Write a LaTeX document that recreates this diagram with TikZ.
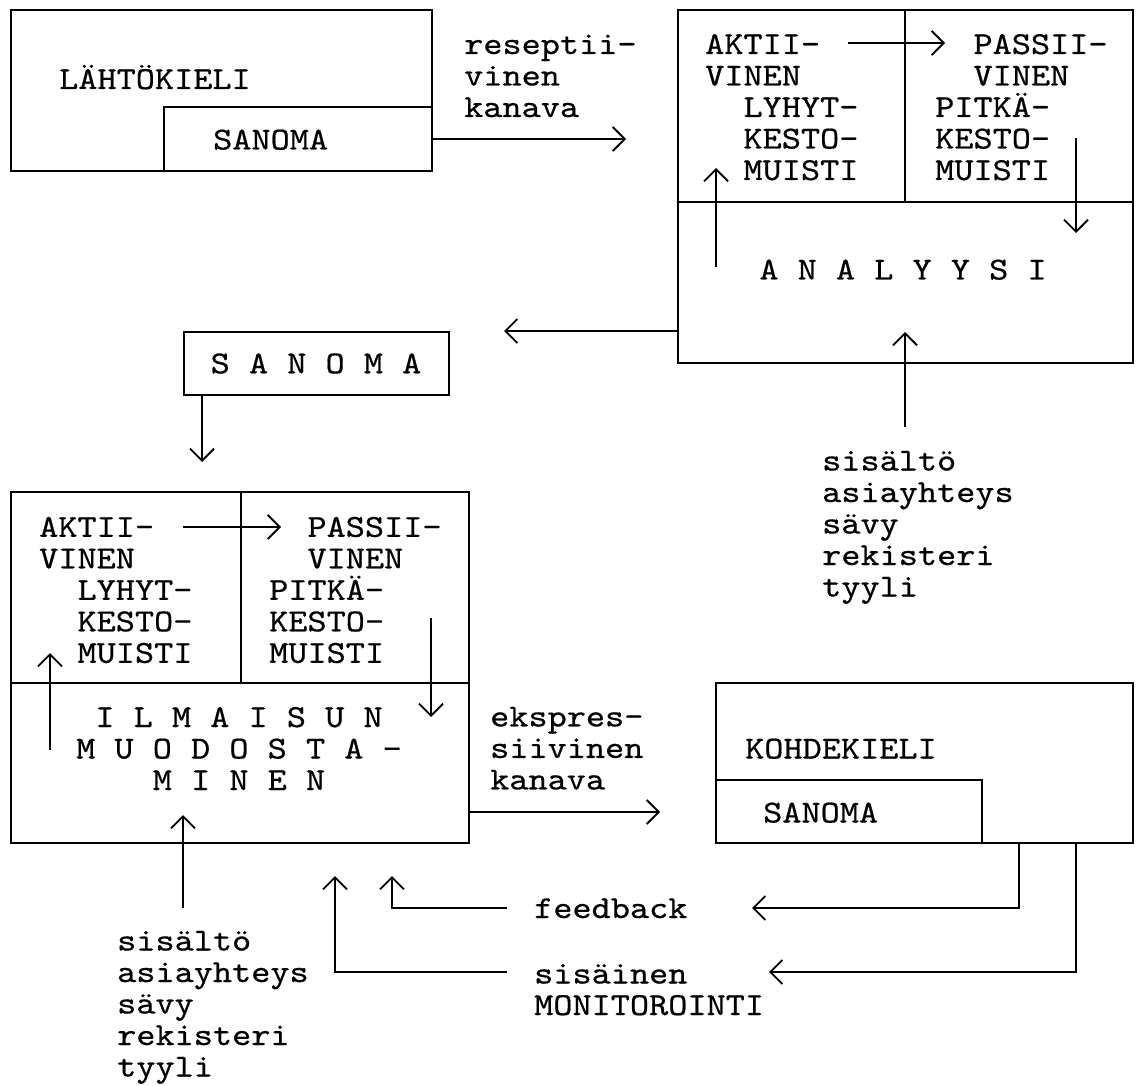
\documentclass[tikz,border=0pt]{standalone}
\usepackage{fontspec}
\newfontfamily\tw[FakeStretch=1.14,FakeBold=0.6]{lmmono10-regular.otf}
\newcommand\twfont{\tw\fontsize{32}{31.5}\selectfont\lineskiplimit=-100pt\relax}
\usetikzlibrary{arrows.meta}
\begin{document}
\begin{tikzpicture}[x=1pt,y=-1pt,
  box/.style={draw, line width=2pt, inner sep=0pt, outer sep=0pt, anchor=north west},
  txt/.style={inner sep=0pt, anchor=base west, align=left, font=\twfont},
  ctxt/.style={txt, anchor=base, align=center},
  ln/.style={line width=2pt},
  arr/.style={line width=1.8pt, -{Straight Barb[length=12pt,width=24pt,line width=1.8pt]}}]
\useasboundingbox (0,0) rectangle (1136,1086);

% ---------- boxes ----------
\node[box, minimum width=421pt, minimum height=161pt] (src) at (11,10) {};
\node[box, minimum width=268pt, minimum height=64pt] (srcmsg) at (164,107) {};
\node[box, minimum width=455pt, minimum height=353pt] (anl) at (678,10) {};
\node[box, anchor=center, minimum width=265pt, minimum height=63pt, font=\twfont] (msg) at (316,363.5) {S A N O M A};
\node[box, minimum width=458pt, minimum height=351pt] (gen) at (11,492) {};
\node[box, minimum width=417pt, minimum height=160pt] (tgt) at (716,683) {};
\node[box, minimum width=266pt, minimum height=63pt] (tgtmsg) at (716,780) {};

% dividers
\draw[ln] (905,10) -- (905,202);
\draw[ln] (678,202) -- (1133,202);
\draw[ln] (241,492) -- (241,683);
\draw[ln] (11,683) -- (469,683);

% ---------- texts (base anchor = baseline of the last line) ----------
\node[txt] (tsrc) at (59,89) {LÄHTÖKIELI};
\node[txt] (tsrcmsg) at (213,149.5) {SANOMA};
\node[txt] (trec) at (464,117) {reseptii-\\vinen\\kanava};

\node[txt] (aleft) at (705,180) {AKTII-\\VINEN\\\hphantom{XX}LYHYT-\\\hphantom{XX}KESTO-\\\hphantom{XX}MUISTI};
\node[txt] (aright) at (935,180) {\hphantom{XX}PASSII-\\\hphantom{XX}VINEN\\PITKÄ-\\KESTO-\\MUISTI};
\node[ctxt] (tanl) at (903,279.5) {A N A L Y Y S I};
\node[txt] (ctx1) at (822,596.5) {sisältö\\asiayhteys\\sävy\\rekisteri\\tyyli};

\node[txt] (gleft) at (39,662.8) {AKTII-\\VINEN\\\hphantom{XX}LYHYT-\\\hphantom{XX}KESTO-\\\hphantom{XX}MUISTI};
\node[txt] (gright) at (269,662.8) {\hphantom{XX}PASSII-\\\hphantom{XX}VINEN\\PITKÄ-\\KESTO-\\MUISTI};
\node[ctxt] (tgen) at (239,790) {I L M A I S U N\\M U O D O S T A -\\M I N E N};
\node[txt] (texp) at (490,789.4) {ekspres-\\siivinen\\kanava};

\node[txt] (ttgt) at (745,758.5) {KOHDEKIELI};
\node[txt] (ttgtmsg) at (763,822.5) {SANOMA};

\node[txt] (fb) at (534,918) {feedback};
\node[txt] (mon) at (534,1015) {sisäinen\\MONITOROINTI};
\node[txt] (ctx2) at (117,1076.5) {sisältö\\asiayhteys\\sävy\\rekisteri\\tyyli};

% ---------- connector end points ----------
\coordinate (recTip) at (626,139);
\coordinate (aA) at (848,43);   \coordinate (aB) at (945,43);
\coordinate (aU1) at (716,267); \coordinate (aU2) at (716,168);
\coordinate (aD1) at (1076,138);\coordinate (aD2) at (1076,233);
\coordinate (anlOut) at (678,331); \coordinate (anlTip) at (504,331);
\coordinate (c1Start) at (905,427); \coordinate (c1Tip) at (905,332);
\coordinate (msgOut) at (202,395); \coordinate (msgTip) at (202,462);
\coordinate (gA) at (183,527);  \coordinate (gB) at (281,527);
\coordinate (gU1) at (50,750);  \coordinate (gU2) at (50,653);
\coordinate (gD1) at (431,618); \coordinate (gD2) at (431,717);
\coordinate (c2Start) at (183,908); \coordinate (c2Tip) at (183,815);
\coordinate (genOut) at (469,812); \coordinate (expTip) at (660,812);
\coordinate (fbOut) at (1019,843); \coordinate (fbCorner) at (1019,908); \coordinate (fbTip) at (752,908);
\coordinate (monOut) at (1076,843); \coordinate (monCorner) at (1076,972); \coordinate (monTip) at (769,972);
\coordinate (fbIn) at (507,908); \coordinate (fbC2) at (392,908); \coordinate (fbUp) at (392,876);
\coordinate (monIn) at (507,972); \coordinate (monC2) at (335,972); \coordinate (monUp) at (335,876);

% ---------- connectors ----------
\draw[arr] (srcmsg.east) -- (recTip);
\draw[arr] (aA) -- (aB);
\draw[arr] (aU1) -- (aU2);
\draw[arr] (aD1) -- (aD2);
\draw[arr] (anlOut) -- (anlTip);
\draw[arr] (c1Start) -- (c1Tip);
\draw[arr] (msgOut) -- (msgTip);
\draw[arr] (gA) -- (gB);
\draw[arr] (gU1) -- (gU2);
\draw[arr] (gD1) -- (gD2);
\draw[arr] (c2Start) -- (c2Tip);
\draw[arr] (genOut) -- (expTip);
\draw[arr] (fbOut) -- (fbCorner) -- (fbTip);
\draw[arr] (monOut) -- (monCorner) -- (monTip);
\draw[arr] (fbIn) -- (fbC2) -- (fbUp);
\draw[arr] (monIn) -- (monC2) -- (monUp);
\end{tikzpicture}
\end{document}
